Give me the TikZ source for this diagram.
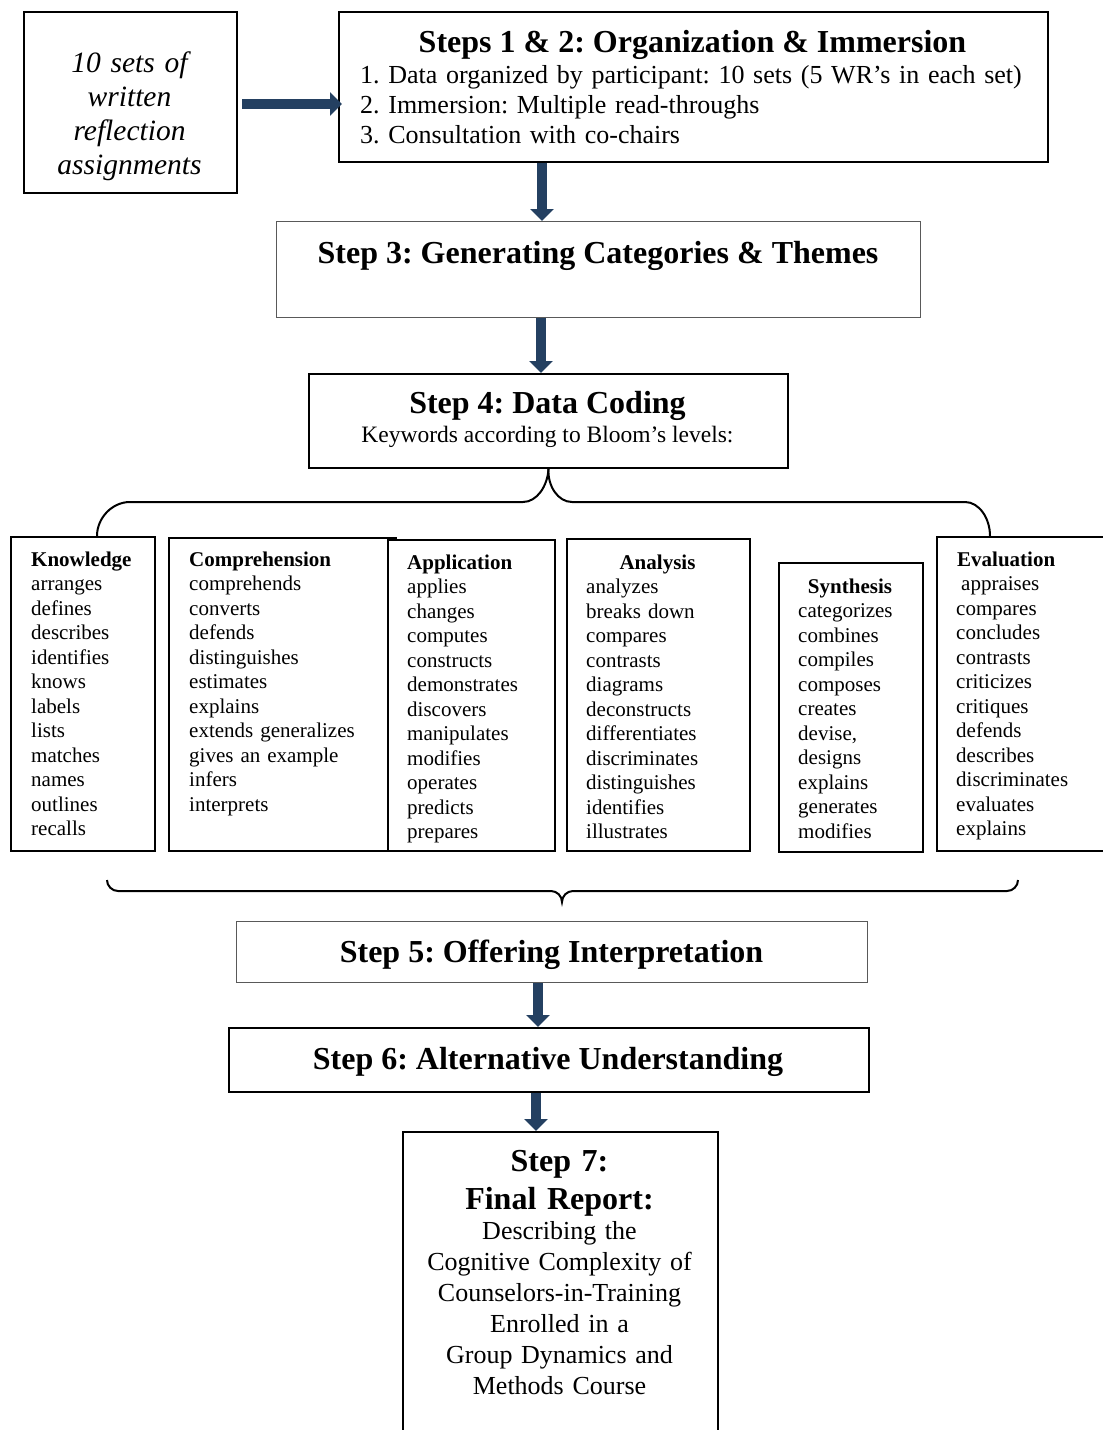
\documentclass[tikz,border=0pt]{standalone}
\usepackage{fontspec}
\setmainfont{Liberation Serif}
\usetikzlibrary{arrows.meta}
\definecolor{navy}{HTML}{244061}
\frenchspacing
\tikzset{
  box/.style={draw=black, line width=2pt, fill=white, inner sep=0pt, anchor=north west},
  thinbox/.style={box, draw=black!65, line width=1.2pt},
  bigarrow/.style={draw=navy, line width=10pt, -{Triangle[width=23pt,length=12pt]}},
  titletext/.style={font=\fontsize{32}{38}\selectfont\bfseries, anchor=base, inner sep=0pt},
  bodytext/.style={font=\fontsize{26}{30}\selectfont, anchor=base west, inner sep=0pt, text width=690pt, align=left},
  colhead/.style={font=\fontsize{21}{24.5}\selectfont\bfseries, inner sep=0pt},
  collist/.style={font=\fontsize{21}{24.5}\selectfont, anchor=base west, inner sep=0pt, text width=200pt, align=left},
  brace/.style={draw=black, line width=2pt},
}
\begin{document}
\begin{tikzpicture}[x=1pt,y=-1pt]
\useasboundingbox (0,0) rectangle (1103,1430);

% ---------- top row ----------
\node[box, minimum width=213pt, minimum height=181pt] (inbox) at (23,11) {};
\node[font=\fontsize{29.5}{34}\selectfont\itshape, anchor=base, inner sep=0pt, text width=210pt, align=center] (intext) at (129.5,72.5)
  {10 sets of\\ written\\ reflection\\ assignments};

\node[box, minimum width=709pt, minimum height=150pt] (s12) at (338,11) {};
\node[titletext] (s12t) at (692.5,52) {Steps 1 \& 2: Organization \& Immersion};
\node[bodytext] (s12b) at (360,83.5)
  {1. Data organized by participant: 10 sets (5 WR’s in each set)\\
   2. Immersion: Multiple read-throughs\\
   3. Consultation with co-chairs};

% ---------- step 3 ----------
\node[thinbox, minimum width=644pt, minimum height=96pt] (s3) at (276,221) {};
\node[titletext] (s3t) at (598,263) {Step 3: Generating Categories \& Themes};

% ---------- step 4 ----------
\node[box, minimum width=479pt, minimum height=94pt] (s4) at (308,373) {};
\node[titletext] (s4t) at (547.5,413) {Step 4: Data Coding};
\node[font=\fontsize{23.5}{28}\selectfont, anchor=base, inner sep=0pt] (s4b) at (547.5,442.5) {Keywords according to Bloom’s levels:};

% ---------- columns ----------
\node[box, minimum width=144pt, minimum height=314pt] (know) at (10,536) {};
\node[colhead, anchor=base west] (knowh) at (31,566) {Knowledge};
\node[collist] (knowl) at (31,590.5) {arranges\\ defines\\ describes\\ identifies\\ knows\\ labels\\ lists\\ matches\\ names\\ outlines\\ recalls};

\node[box, minimum width=227pt, minimum height=313pt] (comp) at (168,537) {};
\node[colhead, anchor=base west] (comph) at (189,566) {Comprehension};
\node[collist] (compl) at (189,590.5) {comprehends\\ converts\\ defends\\ distinguishes\\ estimates\\ explains\\ extends generalizes\\ gives an example\\ infers\\ interprets};

\node[box, minimum width=167pt, minimum height=311pt] (appl) at (387,539) {};
\node[colhead, anchor=base west] (applh) at (407,569) {Application};
\begin{scope}
  \clip (388,540) rectangle (553,842);
  \node[collist] (appll) at (407,593.5) {applies\\ changes\\ computes\\ constructs\\ demonstrates\\ discovers\\ manipulates\\ modifies\\ operates\\ predicts\\ prepares};
\end{scope}

\node[box, minimum width=183pt, minimum height=312pt] (anal) at (566,538) {};
\node[colhead, anchor=base] (analh) at (657.5,569) {Analysis};
\node[collist] (anall) at (586,593.5) {analyzes\\ breaks down\\ compares\\ contrasts\\ diagrams\\ deconstructs\\ differentiates\\ discriminates\\ distinguishes\\ identifies\\ illustrates};

\node[box, minimum width=144pt, minimum height=289pt] (synt) at (778,562) {};
\node[colhead, anchor=base] (synth) at (850,593) {Synthesis};
\node[collist] (syntl) at (798,617.5) {categorizes\\ combines\\ compiles\\ composes\\ creates\\ devise,\\ designs\\ explains\\ generates\\ modifies};

\node[box, minimum width=180pt, minimum height=314pt] (eval) at (936,536) {};
\node[colhead, anchor=base west] (evalh) at (957,566) {Evaluation};
\node[collist] (evall) at (956,590.5) {\hspace{5pt}appraises\\ compares\\ concludes\\ contrasts\\ criticizes\\ critiques\\ defends\\ describes\\ discriminates\\ evaluates\\ explains};

% ---------- top brace ----------
\draw[brace] (s4.south) .. controls (547.5,486) and (558,502) .. (572,502) -- (965,502)
  .. controls (979,502) and (990,518) .. (eval.north west -| 990,0);
\draw[brace] (s4.south) .. controls (547.5,486) and (537,502) .. (523,502) -- (130,502)
  .. controls (112,502) and (97,518) .. (know.north west -| 97,0);

% ---------- bottom brace ----------
\coordinate (bl) at (107,880);
\coordinate (br) at (1018,880);
\coordinate (bm) at (562,902);
\draw[brace] (bl) .. controls (107,886) and (112,891) .. (118,891) -- (551,891)
  .. controls (557,891) and (562,896) .. (bm)
  .. controls (562,896) and (567,891) .. (573,891) -- (1007,891)
  .. controls (1013,891) and (1018,886) .. (br);

% ---------- step 5, 6, 7 ----------
\node[thinbox, minimum width=631pt, minimum height=61pt] (s5) at (236,921) {};
\node[titletext] (s5t) at (551.5,962.5) {Step 5: Offering Interpretation};

\node[box, minimum width=640pt, minimum height=64pt] (s6) at (228,1027) {};
\node[titletext] (s6t) at (548,1069) {Step 6: Alternative Understanding};

\node[box, minimum width=315pt, minimum height=330pt] (s7) at (402,1131) {};
\node[titletext, text width=310pt, align=center] (s7t) at (559.5,1171) {Step 7:\\ Final Report:};
\node[font=\fontsize{26}{31}\selectfont, anchor=base, inner sep=0pt, text width=310pt, align=center] (s7b) at (559.5,1239)
  {Describing the\\ Cognitive Complexity of\\ Counselors-in-Training\\ Enrolled in a\\ Group Dynamics and\\ Methods Course};

% ---------- arrows ----------
\coordinate (ha) at (0,104);
\draw[bigarrow, shorten <=4pt, shorten >=-4pt] (inbox.east |- ha) -- (s12.west |- ha);
\coordinate (v1) at (542,0);
\draw[bigarrow] (s12.south -| v1) -- (s3.north -| v1);
\coordinate (v2) at (541,0);
\draw[bigarrow] (s3.south -| v2) -- (s4.north -| v2);
\coordinate (v3) at (538,0);
\draw[bigarrow] (s5.south -| v3) -- (s6.north -| v3);
\coordinate (v4) at (536,0);
\draw[bigarrow] (s6.south -| v4) -- (s7.north -| v4);
\end{tikzpicture}
\end{document}
